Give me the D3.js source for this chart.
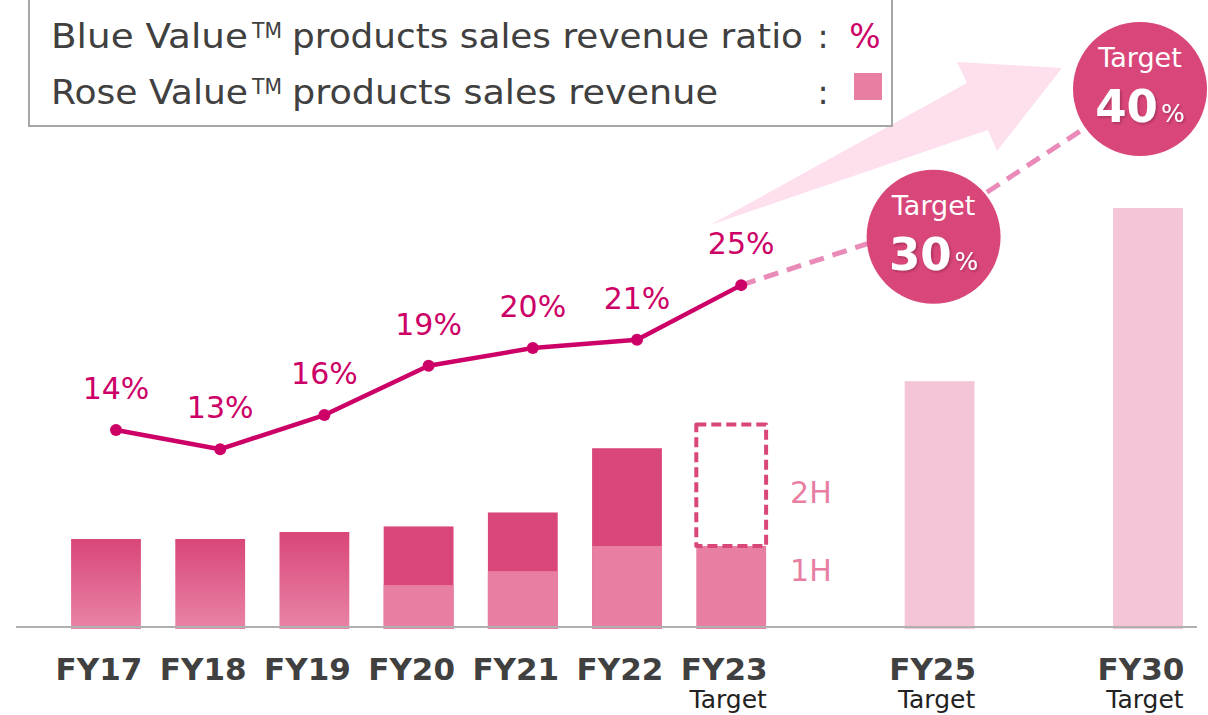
<!DOCTYPE html>
<meta charset="utf-8">
<style>
body { margin: 0; background: #fff; }
text { font-family: "DejaVu Sans", Verdana, sans-serif; }
</style>
<svg width="1208" height="715"></svg>
<script src="https://d3js.org/d3.v7.min.js"></script>
<script>

// x slots: two empty slots keep the gaps before FY25 and FY30
var slots = ["FY17", "FY18", "FY19", "FY20", "FY21", "FY22", "FY23", "gapA", "FY25", "gapB", "FY30"];
var categories = ["FY17", "FY18", "FY19", "FY20", "FY21", "FY22", "FY23", "FY25", "FY30"];
var subLabels = ["", "", "", "", "", "", "Target", "Target", "Target"];

// Blue Value ratio (%), actual
var ratioYears = ["FY17", "FY18", "FY19", "FY20", "FY21", "FY22", "FY23"];
var ratio = [14.4, 13.0, 15.5, 19.1, 20.4, 21.0, 25.0];
// Blue Value ratio targets
var targetYears = ["FY23", "FY25", "FY30"];
var targetRatio = [25, 30, 40];

// Rose Value revenue (index units)
var revYears = ["FY17", "FY18", "FY19", "FY20", "FY21", "FY22"];
var revTotal = [63, 63, 68, 72, 82, 128];
var rev1H = [null, null, null, 30, 40, 58];
var fy23Rev1H = 58, fy23Target = 145;
var planYears = ["FY25", "FY30"];
var planRev = [176, 300];

var svg = d3.select("svg");

var defs = svg.append("defs");
var grad = defs.append("linearGradient").attr("id", "barGrad")
    .attr("x1", 0).attr("y1", 0).attr("x2", 0).attr("y2", 1);
grad.append("stop").attr("offset", "0%").attr("stop-color", "#d9467a");
grad.append("stop").attr("offset", "100%").attr("stop-color", "#e884a6");
var sh = defs.append("filter").attr("id", "shadow").attr("x", "-20%").attr("y", "-20%").attr("width", "140%").attr("height", "140%");
sh.append("feDropShadow").attr("dx", 1.5).attr("dy", 1.5).attr("stdDeviation", 1)
    .attr("flood-color", "#6b1638").attr("flood-opacity", 0.45);

var x = d3.scaleBand().domain(slots).range([53.9, 1200.1]).paddingInner(0.33).paddingOuter(0.165);
var yR = d3.scaleLinear().domain([0, 300]).range([627, 208]);
var yP = d3.scaleLinear().domain([0, 40]).range([627, 80]);
var cx = function(d) { return x(d) + x.bandwidth() / 2; };
var px = function(d) { return cx(d) + 10; };   // line points sit slightly right of bar centre

var dark = "#d9467a", light = "#e87fa2", pale = "#f3c5d7", magenta = "#cc0066";

// big pale arrow in the background
svg.append("polygon")
    .attr("points", [[710, 225], [967, 83], [957, 62], [1062, 68], [997, 151], [988, 130]].join(" "))
    .attr("fill", "#fddfed");

// legend
var lg = svg.append("g");
lg.append("rect").attr("x", 29).attr("y", -10).attr("width", 863).attr("height", 136)
    .attr("fill", "#fff").attr("stroke", "#a6a6a6").attr("stroke-width", 2);
var legendRows = [
  { name: "Blue Value", rest: "products sales revenue ratio", restLen: 511, y: 48 },
  { name: "Rose Value", rest: "products sales revenue", restLen: 426, y: 104 }
];
legendRows.forEach(function(r) {
  lg.append("text").attr("x", 51).attr("y", r.y).attr("font-size", 33).attr("fill", "#404040")
      .attr("textLength", 197).attr("lengthAdjust", "spacingAndGlyphs").text(r.name);
  lg.append("text").attr("x", 252).attr("y", r.y - 10).attr("font-size", 21).attr("fill", "#404040")
      .attr("textLength", 30).attr("lengthAdjust", "spacingAndGlyphs").text("TM");
  lg.append("text").attr("x", 292).attr("y", r.y).attr("font-size", 33).attr("fill", "#404040")
      .attr("textLength", r.restLen).attr("lengthAdjust", "spacingAndGlyphs").text(r.rest);
  lg.append("text").attr("x", 823).attr("y", r.y).attr("font-size", 33).attr("fill", "#404040")
      .attr("text-anchor", "middle").text(":");
});
lg.append("text").attr("x", 865).attr("y", 48).attr("font-size", 33).attr("fill", magenta)
    .attr("text-anchor", "middle").text("%");
lg.append("rect").attr("x", 854).attr("y", 73).attr("width", 28).attr("height", 27).attr("fill", light);

// actual bars
var bw = x.bandwidth(), base = yR(0) + 2;
svg.selectAll(".bar").data(revYears).enter().append("rect")
    .attr("x", function(d) { return x(d); })
    .attr("y", function(d, i) { return yR(revTotal[i]); })
    .attr("width", bw)
    .attr("height", function(d, i) { return base - yR(revTotal[i]); })
    .attr("fill", function(d, i) { return rev1H[i] == null ? "url(#barGrad)" : dark; });
svg.selectAll(".h1").data(revYears.filter(function(d, i) { return rev1H[i] != null; })).enter().append("rect")
    .attr("x", function(d) { return x(d); })
    .attr("y", function(d) { return yR(rev1H[revYears.indexOf(d)]); })
    .attr("width", bw)
    .attr("height", function(d) { return base - yR(rev1H[revYears.indexOf(d)]); })
    .attr("fill", light);

// FY23: 1H actual + dashed 2H target
svg.append("rect").attr("x", x("FY23")).attr("y", yR(fy23Rev1H)).attr("width", bw)
    .attr("height", base - yR(fy23Rev1H)).attr("fill", light);
svg.append("rect").attr("x", x("FY23")).attr("y", yR(fy23Target)).attr("width", bw)
    .attr("height", yR(fy23Rev1H) - yR(fy23Target))
    .attr("fill", "none").attr("stroke", dark).attr("stroke-width", 4)
    .attr("stroke-dasharray", "10,5").attr("stroke-linejoin", "round");
svg.append("text").attr("x", x("FY23") + bw + 24).attr("y", (yR(fy23Target) + yR(fy23Rev1H)) / 2 + 18)
    .attr("font-size", 30).attr("fill", light).text("2H");
svg.append("text").attr("x", x("FY23") + bw + 24).attr("y", yR(fy23Rev1H) + 35)
    .attr("font-size", 30).attr("fill", light).text("1H");

// plan bars
svg.selectAll(".plan").data(planYears).enter().append("rect")
    .attr("x", function(d) { return x(d); })
    .attr("y", function(d, i) { return yR(planRev[i]); })
    .attr("width", bw)
    .attr("height", function(d, i) { return base - yR(planRev[i]); })
    .attr("fill", pale);

// baseline
svg.append("line").attr("x1", 16).attr("x2", 1197).attr("y1", yR(0)).attr("y2", yR(0))
    .attr("stroke", "#b0b0b0").attr("stroke-width", 2);

// category labels
var labelG = svg.selectAll(".cat").data(categories).enter().append("g");
labelG.append("text")
    .attr("x", function(d) { return cx(d) - 7; })
    .attr("y", 680)
    .attr("text-anchor", "middle").attr("font-size", 31).attr("font-weight", "bold").attr("fill", "#404040")
    .text(function(d) { return d; });
labelG.append("text")
    .attr("x", function(d) { return cx(d) - 3; })
    .attr("y", 708)
    .attr("text-anchor", "middle").attr("font-size", 25).attr("fill", "#222")
    .text(function(d, i) { return subLabels[i]; });

// target dashed line
var lineFn = d3.line().x(function(d) { return px(d[0]); }).y(function(d) { return yP(d[1]); });
svg.append("path").datum(d3.zip(targetYears, targetRatio)).attr("d", lineFn)
    .attr("fill", "none").attr("stroke", "#e98ab8").attr("stroke-width", 5)
    .attr("stroke-dasharray", "15,9");

// actual ratio line
svg.append("path").datum(d3.zip(ratioYears, ratio)).attr("d", lineFn)
    .attr("fill", "none").attr("stroke", magenta).attr("stroke-width", 4.5).attr("stroke-linejoin", "round");
svg.selectAll(".pt").data(ratioYears).enter().append("circle")
    .attr("cx", function(d) { return px(d); })
    .attr("cy", function(d, i) { return yP(ratio[i]); })
    .attr("r", 6).attr("fill", magenta);
svg.selectAll(".plab").data(ratioYears).enter().append("text")
    .attr("x", function(d) { return px(d); })
    .attr("y", function(d, i) { return yP(ratio[i]) - 31; })
    .attr("text-anchor", "middle").attr("font-size", 30).attr("fill", magenta)
    .text(function(d, i) { return Math.round(ratio[i]) + "%"; });

// target bubbles
var bubbleShift = [[-16, 20], [-18, 9]];
var bub = svg.selectAll(".bub").data(targetYears.slice(1)).enter().append("g")
    .attr("transform", function(d, i) {
      return "translate(" + (px(d) + bubbleShift[i][0]) + "," + (yP(targetRatio[i + 1]) + bubbleShift[i][1]) + ")";
    });
bub.append("circle").attr("r", 67).attr("fill", "#d9477a");
bub.append("text").attr("y", -22).attr("text-anchor", "middle").attr("font-size", 27).attr("fill", "#fff")
    .text("Target");
var num = bub.append("text").attr("y", 33).attr("text-anchor", "middle").attr("fill", "#fff")
    .attr("filter", "url(#shadow)");
num.append("tspan").attr("font-size", 45).attr("font-weight", "bold")
    .text(function(d, i) { return targetRatio[i + 1]; });
num.append("tspan").attr("font-size", 25).attr("dx", 3).text("%");

</script>
